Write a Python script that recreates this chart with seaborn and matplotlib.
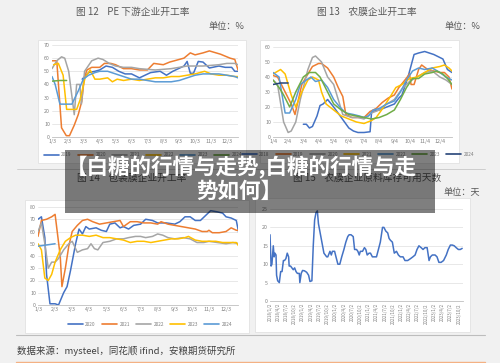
import numpy as np
import pandas as pd
import matplotlib
matplotlib.use('Agg')
import matplotlib.pyplot as plt
import seaborn as sns
from matplotlib.lines import Line2D
from matplotlib.patches import Rectangle

sns.set_style('white')
plt.rcParams['font.family'] = ['Noto Sans CJK SC', 'DejaVu Sans']

W, H = 500, 363

# cores padrao do excel
azul = '#4472c4'
laranja = '#ed7d31'
cinza = '#a5a5a5'
amarelo = '#ffc000'
azul2 = '#5b9bd5'
verde = '#70ad47'
marinho = '#264478'

# ---------- grafico 12: PE (meses a partir de 1/3) ----------
pe_meses = ['1/3', '2/3', '3/3', '4/3', '5/3', '6/3', '7/3', '8/3', '9/3', '10/3', '11/3', '12/3']
pe_2019_x = [1.9, 2.3, 2.7, 3.0, 3.4, 3.8, 4.2, 4.6, 5.0, 5.5, 6.2, 6.8, 7.2, 7.6, 8.3, 8.5, 8.7, 8.9, 9.2, 9.5, 9.9, 10.5, 10.9, 11.3, 11.5, 11.7]
pe_2019 = [44, 49, 50, 51, 54, 53, 50, 48, 48, 45, 49, 50, 47, 50, 54, 57.5, 48.5, 48.5, 57.5, 57, 52.5, 54, 53, 53, 50, 50]
pe_2020_x = [0, 0.3, 0.6, 0.9, 1.1, 1.4, 1.65, 1.87, 2.03, 2.2, 2.5, 3.0, 3.3, 3.7, 4.0, 4.5, 5.0, 5.5, 6.0, 6.4, 7.0, 7.4, 8.3, 8.7, 9.0, 9.5, 9.9, 10.6, 11.2, 11.5, 11.7]
pe_2020 = [58, 58, 7, 1, 1, 9, 17, 27, 45, 51, 53, 53, 56, 56, 55, 52, 52, 51, 51, 56, 55, 57, 60, 64, 62.5, 64, 65.5, 63, 60, 59, 51]
pe_2021_x = [0, 0.3, 0.6, 0.8, 1.05, 1.4, 1.55, 1.75, 1.85, 2.05, 2.5, 2.9, 3.2, 3.6, 4.0, 4.5, 5.0, 5.5, 6.5, 7.5, 8.5, 9.5, 10.5, 11.0, 11.5, 11.7]
pe_2021 = [52, 58, 61, 60, 50, 17, 40, 40, 25, 50, 58, 60, 59, 56, 54, 53, 53, 52, 51, 52, 54, 54, 55, 56, 56, 55]
pe_2022_x = [0.1, 0.4, 0.7, 0.92, 1.55, 1.76, 2.08, 2.4, 2.7, 3.0, 3.5, 3.8, 4.1, 4.5, 5.0, 5.5, 6.5, 7.0, 7.5, 8.0, 8.5, 9.0, 9.6, 10.0, 10.5, 11.0, 11.5, 11.7]
pe_2022 = [55, 56, 47, 21, 21, 28, 45, 51, 44, 44, 45, 42, 44, 43, 44, 43, 45, 45, 46, 46, 47, 48, 50, 48, 47, 47, 46, 46]
pe_2023_x = [0, 0.2, 0.5, 1.25, 1.65, 1.97, 2.3, 2.7, 3.0, 3.5, 4.0, 4.5, 5.0, 5.5, 6.0, 6.5, 7.0, 7.5, 8.0, 8.5, 9.0, 9.5, 10.0, 10.5, 11.0, 11.5, 11.7]
pe_2023 = [46, 40, 25, 25, 35, 44, 47, 49, 50, 50, 48, 46, 44, 44, 43, 42, 42, 42, 43, 45, 47, 48, 48, 48, 47, 46, 45]
pe_2024_x = [0, 0.5, 0.92]
pe_2024 = [42.5, 43, 43]

# ---------- grafico 13: agro filme (meses a partir de 1/4) ----------
nm_meses = ['1/4', '2/4', '3/4', '4/4', '5/4', '6/4', '7/4', '8/4', '9/4', '10/4', '11/4', '12/4']
nm_2018_x = [2.0, 2.2, 2.4, 2.6, 2.9, 3.1, 3.3, 3.6, 4.0, 4.5, 5.0, 5.3, 5.6, 6.0, 6.4, 6.5, 7.0, 7.5, 8.0, 8.3, 8.5, 8.9, 9.3, 9.6, 10.0, 10.3, 10.6, 11.0, 11.2, 11.5, 11.8]
nm_2018 = [8.5, 8.5, 6, 7, 14, 21, 22, 25, 20, 13, 6, 4, 3, 3, 3.5, 17, 18, 20, 22, 26, 28, 40, 55, 56, 57, 56, 55, 53, 52, 45, 43]
nm_2019_x = [0, 0.3, 0.8, 1.2, 1.45, 1.9, 2.3, 2.6, 3.0, 3.2, 3.6, 4.0, 4.3, 4.6, 4.8, 5.2, 5.6, 6.0, 6.4, 6.8, 7.2, 7.6, 8.0, 8.3, 8.7, 9.0, 9.1, 9.3, 9.6, 9.8, 10.2, 10.6, 11.0, 11.3, 11.6, 11.8]
nm_2019 = [41, 40, 30, 22, 15, 35, 42, 47, 49, 49, 46, 40, 33, 27, 15, 13, 13, 13, 17, 19, 23, 26, 28, 33, 38, 42, 35, 35, 45, 48, 45, 44, 43, 43, 40, 32]
nm_2020_x = [0, 0.3, 0.7, 1.0, 1.2, 1.5, 1.8, 2.3, 2.6, 2.8, 3.2, 3.6, 4.0, 4.3, 4.6, 5.2, 5.6, 6.0, 6.5, 7.0, 7.5, 8.0, 8.5, 9.0, 9.5, 10.0, 10.5, 11.0, 11.4, 11.8]
nm_2020 = [38, 35, 10, 3, 4, 10, 25, 45, 53, 54, 50, 40, 35, 25, 15, 13, 13, 12, 16, 18, 22, 25, 32, 37, 40, 43, 44, 40, 38, 35]
nm_2021_x = [0, 0.5, 0.8, 1.2, 1.5, 1.9, 2.3, 2.6, 3.0, 3.2, 3.5, 4.0, 4.5, 5.0, 5.5, 6.0, 6.5, 6.8, 7.3, 7.8, 8.1, 8.5, 9.0, 9.5, 10.0, 10.5, 11.0, 11.3, 11.6, 11.8]
nm_2021 = [42, 45, 42, 28, 20, 30, 38, 40, 38, 30, 22, 18, 14, 12, 10, 9, 11, 13, 20, 28, 33, 35, 39, 40, 43, 46, 47, 48, 46, 44]
nm_2022_x = [0, 0.4, 0.8, 1.1, 1.5, 1.8, 2.2, 2.5, 2.8, 3.2, 3.6, 4.0, 4.4, 4.8, 5.3, 5.7, 6.0, 6.3, 6.6, 7.0, 7.5, 8.0, 8.4, 8.8, 9.2, 9.6, 10.0, 10.5, 11.0, 11.4, 11.8]
nm_2022 = [43, 40, 16, 16, 25, 35, 38, 40, 37, 38, 33, 25, 20, 16, 15, 14, 13, 14, 18, 19, 22, 24, 30, 38, 44, 46, 45, 46, 43, 40, 38]
nm_2023_x = [0, 0.4, 0.7, 1.1, 1.5, 2.0, 2.4, 2.8, 3.1, 3.6, 4.0, 4.5, 5.0, 5.5, 6.0, 6.5, 7.0, 7.5, 8.0, 8.4, 8.8, 9.2, 9.6, 10.0, 10.5, 10.8, 11.2, 11.5, 11.8]
nm_2023 = [38, 33, 28, 20, 30, 40, 43, 43, 40, 30, 22, 18, 15, 14, 13, 12, 13, 15, 18, 25, 33, 39, 39, 42, 43, 44, 42, 39, 35]
nm_2024_x = [0, 0.5, 1.0]
nm_2024 = [35, 36, 36]

# ---------- grafico 14: filme de embalagem (meses a partir de 1/3) ----------
bz_2020_x = [0, 0.2, 0.4, 0.5, 0.7, 1.0, 1.2, 1.5, 1.7, 1.9, 2.2, 2.4, 2.6, 2.8, 3.0, 3.4, 3.7, 4.0, 4.2, 4.5, 4.8, 5.0, 5.3, 5.6, 6.0, 6.3, 6.7, 7.0, 7.5, 8.0, 8.3, 8.6, 8.9, 9.2, 9.5, 9.8, 10.1, 10.5, 10.8, 11.0, 11.3, 11.6, 11.8]
bz_2020 = [70, 72, 55, 25, 1, 1, 0, 10, 15, 28, 50, 62, 58, 64, 62, 63, 61, 60, 66, 67, 63, 64, 62, 65, 66, 70, 69, 67, 67, 66, 68, 72, 72, 69, 69, 73, 77, 76, 75, 72, 71, 69, 55]
bz_2021_x = [0, 0.2, 0.5, 0.8, 1.0, 1.3, 1.4, 1.6, 1.8, 2.0, 2.3, 2.6, 2.9, 3.2, 3.6, 4.0, 4.4, 4.8, 5.0, 5.4, 5.8, 6.2, 6.6, 7.0, 7.2, 7.6, 8.0, 8.4, 8.8, 9.2, 9.6, 9.9, 10.0, 10.2, 10.6, 11.0, 11.3, 11.6, 11.8]
bz_2021 = [56, 69, 70, 72, 74, 40, 15, 30, 48, 60, 65, 69, 70, 68, 66, 67, 68, 69, 64, 68, 68, 67, 67, 66, 68, 66, 65, 64, 63, 62, 60, 60, 61, 59, 59, 60, 63, 61, 61]
bz_2022_x = [0, 0.2, 0.4, 0.6, 0.8, 1.0, 1.2, 1.5, 1.8, 2.0, 2.3, 2.6, 2.9, 3.1, 3.3, 3.5, 3.8, 4.2, 4.6, 5.0, 5.3, 5.7, 6.0, 6.3, 6.7, 7.0, 7.3, 7.6, 8.0, 8.5, 8.9, 9.3, 9.7, 10.0, 10.5, 11.0, 11.4, 11.8]
bz_2022 = [60, 67, 50, 30, 35, 35, 38, 45, 50, 52, 43, 45, 46, 50, 46, 45, 51, 52, 54, 54, 55, 56, 56, 55, 56, 58, 57, 55, 54, 55, 54, 51, 51, 52, 51, 50, 51, 50]
bz_2023_x = [0, 0.2, 0.4, 0.6, 0.8, 1.0, 1.3, 1.6, 1.9, 2.2, 2.6, 3.0, 3.4, 3.8, 4.2, 4.6, 5.0, 5.4, 5.8, 6.2, 6.6, 7.0, 7.4, 7.8, 8.2, 8.6, 8.8, 9.2, 9.6, 10.0, 10.4, 10.8, 11.2, 11.6, 11.8]
bz_2023 = [50, 45, 22, 20, 25, 35, 45, 52, 55, 57, 57, 56, 57, 55, 55, 54, 53, 51, 52, 52, 51, 52, 53, 54, 54, 55, 56, 53, 52, 52, 52, 51, 51, 51, 47]
bz_2024_x = [0, 0.5, 1.0]
bz_2024 = [48, 49, 50]

# ---------- grafico 15: dias de estoque (meses desde 2018/1/2) ----------
dias_x = [0, 0.4, 0.7, 1.2, 1.5, 1.8, 2.2, 2.4, 2.8, 3.4, 3.9, 4.4, 4.9, 5.3, 5.8, 6.3, 6.8, 7.0, 7.5, 8.0, 8.5, 9.0, 9.5, 10.0, 10.7, 10.9, 11.4, 11.9, 12.6, 13.4, 14.1, 14.6, 15.3, 15.8, 16.3, 16.8, 17.3, 17.7, 18.2, 18.7, 19.2, 19.7, 20.2, 20.7, 21.1, 21.9, 22.4, 22.8, 23.6, 24.1, 24.8, 25.5, 26.2, 27.0, 27.7, 28.4, 28.9, 29.6, 30.4, 30.9, 31.6, 32.1, 32.6, 33.0, 33.8, 34.5, 35.0, 35.5, 36.2, 36.7, 37.4, 38.2, 38.9, 39.6, 40.3, 41.1, 41.6, 42.3, 43.0, 43.5, 44.0, 44.7, 45.4, 46.2, 46.9, 47.6, 48.6, 49.3, 50.3, 51.3, 52.2, 53.0, 53.7, 54.4, 55.2, 55.9, 56.6, 57.4, 58.1, 58.6, 59.3, 60.3, 61.0, 61.7, 62.5, 63.4, 64.4, 65.1, 65.9, 66.6, 67.3, 68.0, 68.8, 69.5, 70.2]
dias = [18, 9.5, 10, 15, 12, 13, 12.5, 7, 5.5, 5, 8, 8, 11, 11, 11.5, 13, 12, 9.5, 9.5, 9, 8.5, 9, 8, 7.5, 7.5, 5, 7.5, 8.3, 8.2, 7.8, 7, 5.3, 5.5, 15, 22, 24, 24.5, 21, 19, 17, 15, 13, 12.5, 12, 12, 13.5, 12.5, 13.5, 13.5, 12, 10, 10, 12, 14, 16, 17.5, 18, 18, 17.5, 14, 14, 13.5, 12.5, 13.5, 13.5, 14.5, 14, 12.5, 13, 13, 12, 12, 12, 14, 16, 20, 20, 19, 18.5, 17, 16.5, 16, 13, 13.5, 12.5, 12, 12, 11, 11, 11.5, 12, 12.5, 14, 15, 14.5, 14, 14.5, 14.5, 11, 12, 12.5, 12.5, 12, 10.5, 10.5, 11, 12.5, 14, 15.2, 15.2, 15, 14.5, 14, 14, 14.3]
dias_ticks = [f'{2018 + i // 4}/{[1, 4, 7, 10][i % 4]}/2' for i in range(24)]

fig = plt.figure(figsize=(W / 100, H / 100), dpi=100)
fig.patch.set_facecolor('#f1f1f1')


def caixa(l, t, r, b, cor='white'):
    fig.patches.append(Rectangle((l / W, 1 - b / H), (r - l) / W, (b - t) / H, transform=fig.transFigure,
                                 facecolor=cor, edgecolor='#e2e2e2', lw=0.6, zorder=-5))


def eixo(l, t, r, b):
    ax = fig.add_axes([l / W, 1 - b / H, (r - l) / W, (b - t) / H])
    ax.set_facecolor('none')
    for s in ['top', 'right', 'left']:
        ax.spines[s].set_visible(False)
    ax.spines['bottom'].set_color('#bfbfbf')
    ax.spines['bottom'].set_linewidth(0.6)
    ax.grid(axis='y', color='#dedede', lw=0.5)
    ax.tick_params(length=0, labelsize=3.8, labelcolor='#808080', pad=1.5)
    return ax


def texto(x, y, s, **kw):
    fig.text(x / W, 1 - y / H, s, **kw)


def legenda(series, cx, cy):
    hs = [Line2D([], [], color=c, lw=1.2) for _, c in series]
    fig.legend(hs, [n for n, _ in series], loc='center', bbox_to_anchor=(cx / W, 1 - cy / H), ncol=len(series),
               frameon=False, fontsize=3.4, handlelength=3.2, columnspacing=1.3, handletextpad=0.5,
               labelcolor='#808080')


def linhas(ax, series):
    for xs, ys, c in series:
        sns.lineplot(x=xs, y=ys, ax=ax, color=c, linewidth=1.1)


# caixas brancas
caixa(38, 40, 246, 163)
caixa(260, 40, 459, 163)
caixa(25, 200, 249, 333)
caixa(255, 198, 470, 332)

# titulos
cor_tit = '#595959'
texto(133, 12, '图 12    PE 下游企业开工率', ha='center', va='center', fontsize=7, color=cor_tit)
texto(226, 27, '单位：%', ha='center', va='center', fontsize=6.6, color=cor_tit)
texto(367, 12, '图 13    农膜企业开工率', ha='center', va='center', fontsize=7, color=cor_tit)
texto(462, 27, '单位：%', ha='center', va='center', fontsize=6.6, color=cor_tit)
texto(132, 178, '图 14    包装膜企业开工率', ha='center', va='center', fontsize=7, color=cor_tit)
texto(367, 178, '图 15    农膜企业原料库存可用天数', ha='center', va='center', fontsize=7, color=cor_tit)
texto(462, 192, '单位：天', ha='center', va='center', fontsize=6.6, color=cor_tit)

# grafico 12
ax1 = eixo(52, 45, 238, 137)
linhas(ax1, [(pe_2019_x, pe_2019, azul), (pe_2020_x, pe_2020, laranja), (pe_2021_x, pe_2021, cinza),
             (pe_2022_x, pe_2022, amarelo), (pe_2023_x, pe_2023, azul2), (pe_2024_x, pe_2024, verde)])
ax1.set_xlim(0, 11.7)
ax1.set_ylim(0, 70)
ax1.set_yticks(range(0, 71, 10))
ax1.set_xticks(range(12))
ax1.set_xticklabels(pe_meses)
legenda([('2019', azul), ('2020', laranja), ('2021', cinza), ('2022', amarelo), ('2023', azul2), ('2024', verde)], 143, 155)

# grafico 13
ax2 = eixo(273, 47, 452, 137)
linhas(ax2, [(nm_2018_x, nm_2018, azul), (nm_2019_x, nm_2019, laranja), (nm_2020_x, nm_2020, cinza),
             (nm_2021_x, nm_2021, amarelo), (nm_2022_x, nm_2022, azul2), (nm_2023_x, nm_2023, verde),
             (nm_2024_x, nm_2024, marinho)])
ax2.set_xlim(0, 11.8)
ax2.set_ylim(0, 60)
ax2.set_yticks(range(0, 61, 10))
ax2.set_xticks(range(12))
ax2.set_xticklabels(nm_meses)
legenda([('2018', azul), ('2019', laranja), ('2020', cinza), ('2021', amarelo), ('2022', azul2), ('2023', verde), ('2024', marinho)], 358, 154)

# grafico 14
ax3 = eixo(38, 207, 238, 305)
linhas(ax3, [(bz_2020_x, bz_2020, azul), (bz_2021_x, bz_2021, laranja), (bz_2022_x, bz_2022, cinza),
             (bz_2023_x, bz_2023, amarelo), (bz_2024_x, bz_2024, azul2)])
ax3.set_xlim(0, 11.7)
ax3.set_ylim(0, 80)
ax3.set_yticks(range(0, 81, 10))
ax3.set_xticks(range(12))
ax3.set_xticklabels(pe_meses)
legenda([('2020', azul), ('2021', laranja), ('2022', cinza), ('2023', amarelo), ('2024', azul2)], 150, 324)

# grafico 15
ax4 = eixo(270, 209, 463, 301)
sns.lineplot(x=dias_x, y=dias, ax=ax4, color=azul, linewidth=1.1)
ax4.set_xlim(0, 70.5)
ax4.set_ylim(0, 25)
ax4.set_yticks(range(0, 26, 5))
ax4.set_xticks(np.arange(24) * 3)
ax4.set_xticklabels(dias_ticks, rotation=90, fontsize=3.2)

# linhas separadoras e fonte
fig.add_artist(Line2D([17 / W, 485 / W], [1 - 169 / H] * 2, color='#c8c8c8', lw=0.6, zorder=-6))
fig.add_artist(Line2D([16 / W, 485 / W], [1 - 335 / H] * 2, color='#bdbdbd', lw=0.8))
fig.add_artist(Line2D([16 / W, 485 / W], [1 - 362 / H] * 2, color='#f4b183', lw=1.0))
texto(17, 351, '数据来源：mysteel，同花顺 ifind，安粮期货研究所', ha='left', va='center', fontsize=6.8, color='#404040')

# faixa escura por cima
fig.patches.append(Rectangle((65 / W, 1 - 213 / H), 370 / W, 63 / H, transform=fig.transFigure,
                             facecolor='black', alpha=0.5, edgecolor='none', zorder=10))
texto(241, 167, '【白糖的行情与走势,白糖的行情与走', ha='center', va='center', fontsize=15.5,
      color='white', fontweight='bold', zorder=11)
texto(239, 191, '势如何】', ha='center', va='center', fontsize=15.5, color='white', fontweight='bold', zorder=11)

fig.savefig('out.png', dpi=100)
